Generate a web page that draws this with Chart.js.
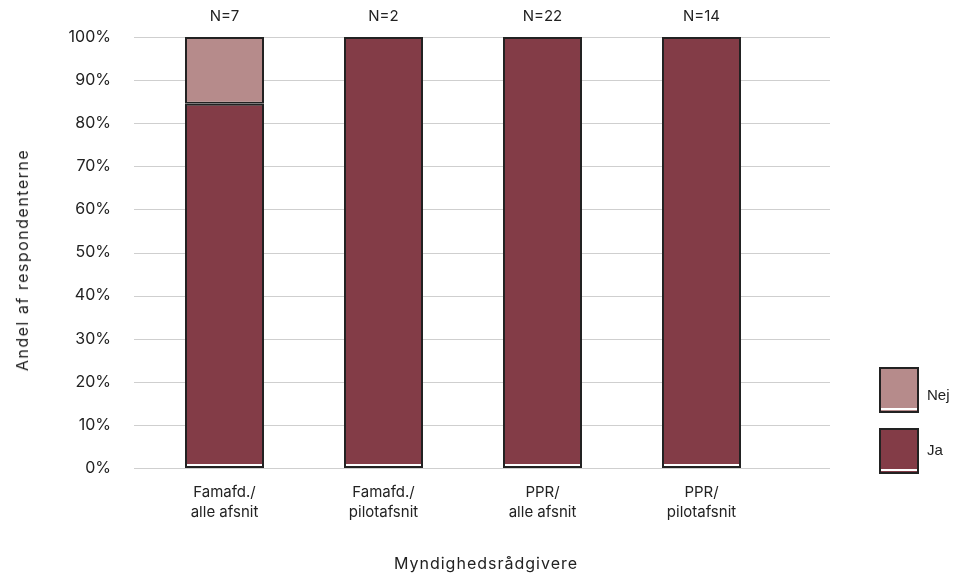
<!DOCTYPE html>
<html><head><meta charset="utf-8">
<script src="https://cdn.jsdelivr.net/npm/chart.js@4"></script>
<style>
html,body{margin:0;padding:0;background:#fff;}
#wrap{position:relative;width:966px;height:573px;}
.leg{position:absolute;font-family:"Liberation Sans",Arial,sans-serif;font-size:15px;color:#222;}
.box{position:absolute;width:36px;height:42px;border:2px solid #222;box-sizing:content-box;}
.box:after{content:"";position:absolute;left:0;right:0;bottom:1px;height:2px;background:#fff;}
.ttl{position:absolute;font-family:"Inter","Roboto",sans-serif;font-size:16px;color:#222;white-space:nowrap;line-height:20px;}
</style></head><body>
<div id="wrap"><canvas id="c" width="966" height="573"></canvas>
<div class="box" style="left:879px;top:367px;background:#B68B8B;"></div>
<div class="leg" style="left:927px;top:386px;">Nej</div>
<div class="box" style="left:879px;top:428px;background:#833C47;"></div>
<div class="leg" style="left:927px;top:441px;">Ja</div>
<div class="ttl" id="xt" style="left:486px;top:553px;letter-spacing:1px;transform:translateX(-50%);">Myndighedsrådgivere</div>
<div class="ttl" id="yt" style="left:22px;top:260px;letter-spacing:1.5px;transform:translate(-50%,-50%) rotate(-90deg);">Andel af respondenterne</div>
</div>
<script>
const categories = [["Famafd./","alle afsnit"],["Famafd./","pilotafsnit"],["PPR/","alle afsnit"],["PPR/","pilotafsnit"]];
const nLabels = ["N=7","N=2","N=22","N=14"];
const jaValues = [84.5, 100, 100, 100];
const nejValues = [15.5, 0, 0, 0];
const yTicks = [0,10,20,30,40,50,60,70,80,90,100];

const FONT = '"Inter","Roboto",sans-serif';

const gridPlugin = {
  id:'extgrid',
  beforeDatasetsDraw(chart){
    const ctx = chart.ctx, ys = chart.scales.y;
    ctx.save();
    ctx.strokeStyle = '#cfcfcf';
    ctx.lineWidth = 1;
    yTicks.forEach(v=>{
      const y = Math.round(ys.getPixelForValue(v)) + 0.5;
      ctx.beginPath(); ctx.moveTo(134, y); ctx.lineTo(830, y); ctx.stroke();
    });
    ctx.restore();
  }
};

const nPlugin = {
  id:'nlabels',
  afterDatasetsDraw(chart){
    const ctx = chart.ctx, xs = chart.scales.x;
    const meta = chart.getDatasetMeta(0);
    ctx.save();
    ctx.fillStyle = '#fff';
    meta.data.forEach(el=>{
      const w = el.width;
      ctx.fillRect(el.x - w/2 + 2, el.base - 4, w - 4, 2);
    });
    ctx.font = '15px ' + FONT;
    ctx.fillStyle = '#222';
    ctx.textAlign = 'center';
    ctx.textBaseline = 'middle';
    nLabels.forEach((t,i)=>{ ctx.fillText(t, xs.getPixelForValue(i), 16); });
    ctx.restore();
  }
};

new Chart(document.getElementById('c'), {
  type:'bar',
  data:{
    labels: categories,
    datasets:[
      {label:'Ja', data:jaValues, backgroundColor:'#833C47', borderColor:'#222', borderWidth:2, borderSkipped:false, barPercentage:0.497, categoryPercentage:1},
      {label:'Nej', data:nejValues, backgroundColor:'#B68B8B', borderColor:'#222', borderWidth:2, borderSkipped:false, barPercentage:0.497, categoryPercentage:1}
    ]
  },
  options:{
    responsive:false,
    animation:false,
    layout:{padding:{top:37, right:966-781, bottom:0, left:0}},
    plugins:{legend:{display:false}, tooltip:{enabled:false}},
    scales:{
      x:{
        stacked:true,
        grid:{display:false, drawTicks:false},
        border:{display:false},
        ticks:{color:'#222', font:{family:FONT, size:15, lineHeight:1.33}, padding:15, maxRotation:0},
        afterFit(s){ s.height = 573-468; }
      },
      y:{
        stacked:true, min:0, max:100,
        afterBuildTicks(s){ s.ticks = yTicks.map(v=>({value:v})); },
        grid:{display:false, drawTicks:false},
        border:{display:false},
        ticks:{color:'#222', font:{family:FONT, size:16}, padding:34, callback:v=>v+'%'},
        afterFit(s){ s.width = 145; s.paddingTop = 10; s.paddingBottom = 10; }
      }
    }
  },
  plugins:[gridPlugin, nPlugin]
});
</script>
</body></html>
